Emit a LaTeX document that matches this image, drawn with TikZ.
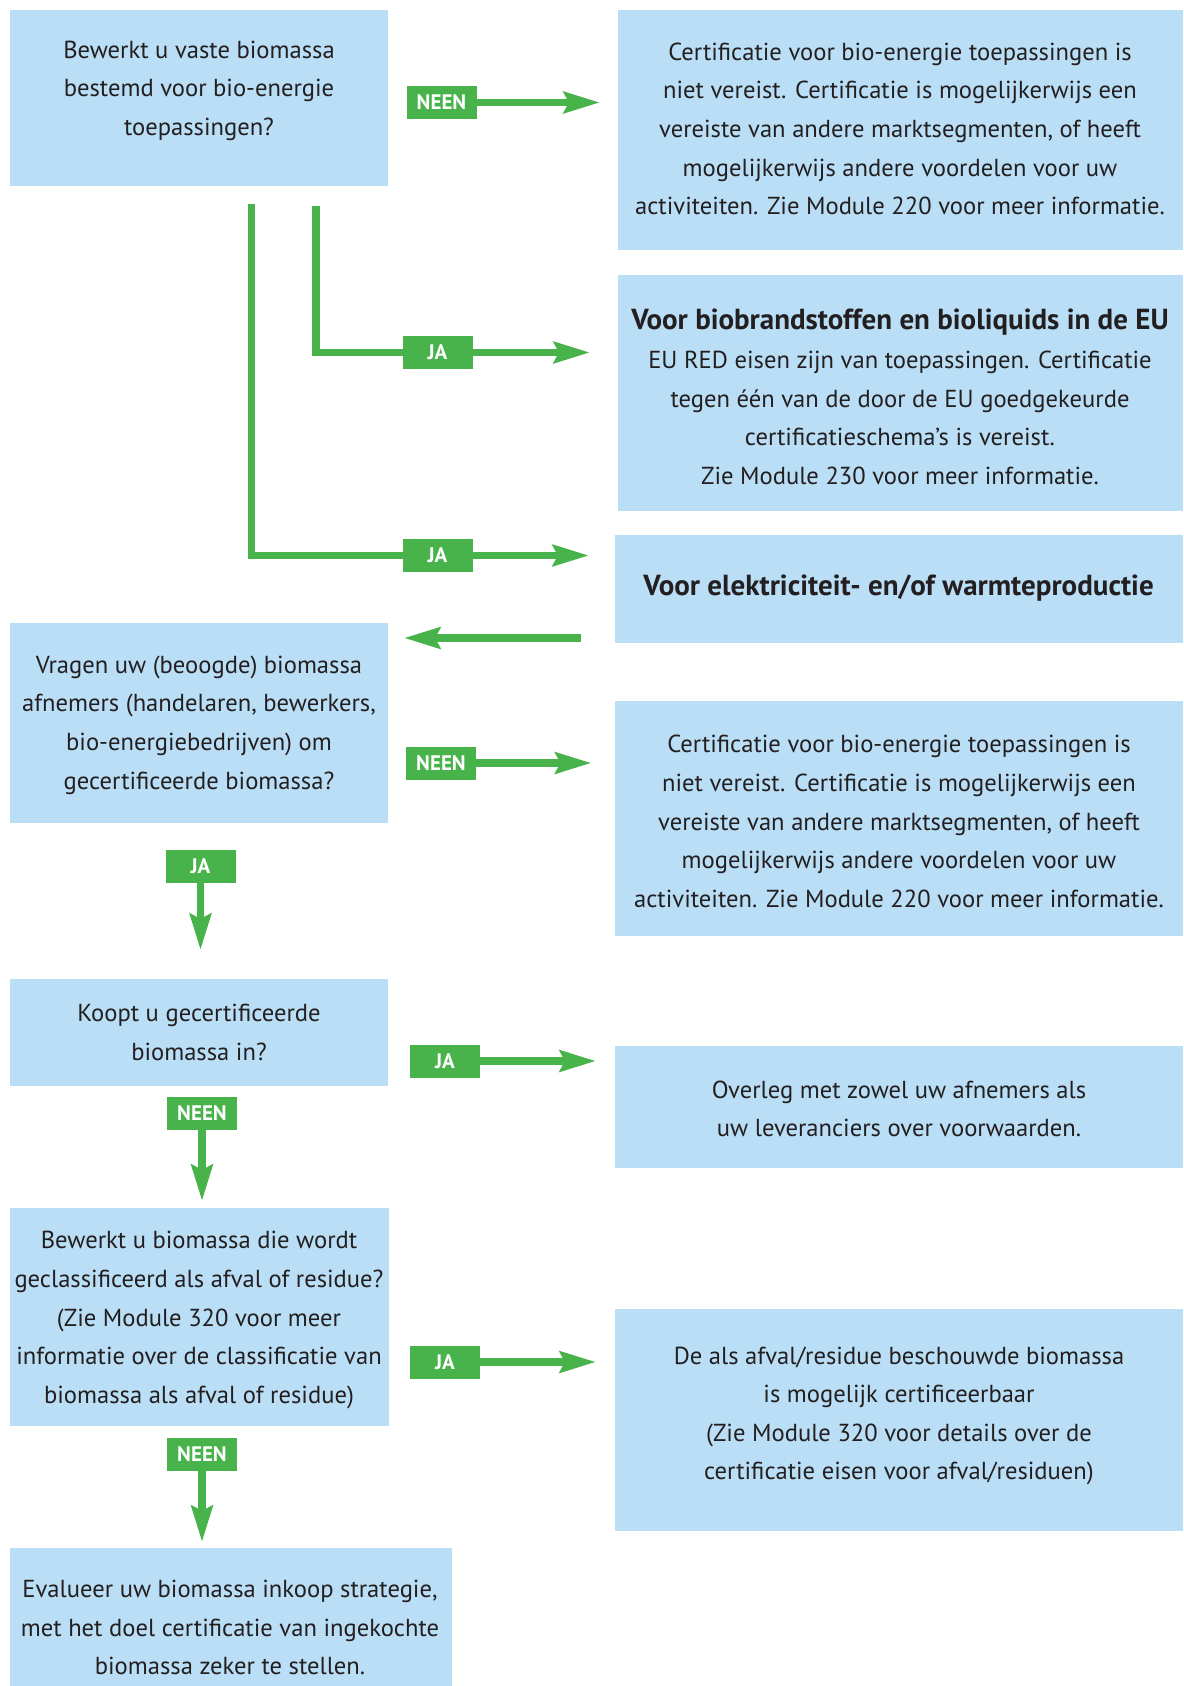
\documentclass[tikz,border=0pt]{standalone}
\usepackage{fontspec}
\setmainfont{PT Sans}
\usetikzlibrary{arrows.meta}
\definecolor{boxblue}{RGB}{185,222,245}
\definecolor{flowgreen}{RGB}{72,179,74}
\definecolor{inkgray}{RGB}{35,31,32}
\tikzset{
  box/.style={fill=boxblue, draw=none, inner sep=0pt, outer sep=0pt, anchor=north west},
  txt/.style={text=inkgray, align=center, inner sep=0pt, yshift=-2.5pt,
    font=\fontsize{24.6pt}{38.6pt}\selectfont},
  headtxt/.style={text=inkgray, align=center, inner sep=0pt, yshift=-2.5pt,
    font=\fontsize{29pt}{38.6pt}\selectfont\bfseries},
  tag/.style={fill=flowgreen, text=white, inner sep=0pt, outer sep=0pt,
    minimum width=70pt, minimum height=33pt,
    font=\fontsize{21pt}{22pt}\selectfont\bfseries},
  flow/.style={draw=flowgreen, line width=7.5pt, line join=miter,
    -{Stealth[length=36pt, width=21pt, inset=5pt]}},
  flowline/.style={draw=flowgreen, line width=7.5pt, line join=miter},
}
\begin{document}
\begin{tikzpicture}[x=1pt, y=-1pt]
\useasboundingbox (0,0) rectangle (1183,1686);

% question boxes (left column)
\node[box, minimum width=378.3pt, minimum height=176.3pt] (q1) at (9.7,9.7) {};
\node[box, minimum width=378.3pt, minimum height=200pt] (q2) at (9.7,623) {};
\node[box, minimum width=378.3pt, minimum height=107pt] (q3) at (9.7,979) {};
\node[box, minimum width=379.3pt, minimum height=218pt] (q4) at (9.7,1208) {};
\node[box, minimum width=442.3pt, minimum height=138pt] (q5) at (9.7,1548) {};

% answer boxes (right column)
\node[box, minimum width=565pt, minimum height=239.8pt] (r1) at (618,9.7) {};
\node[box, minimum width=565pt, minimum height=236pt] (r2) at (618,275) {};
\node[box, minimum width=568pt, minimum height=108.5pt] (r3) at (615,534.5) {};
\node[box, minimum width=568pt, minimum height=235pt] (r4) at (615,701) {};
\node[box, minimum width=568pt, minimum height=122pt] (r5) at (615,1046) {};
\node[box, minimum width=568pt, minimum height=222pt] (r6) at (615,1309) {};

% box texts
\node[txt] (q1t) at (199,88) {Bewerkt u vaste biomassa\\bestemd voor bio-energie\\toepassingen?};
\node[txt] (r1t) at (900,126.3) {Certificatie voor bio-energie toepassingen is\\niet vereist. Certificatie is mogelijkerwijs een\\vereiste van andere marktsegmenten, of heeft\\mogelijkerwijs andere voordelen voor uw\\activiteiten. Zie Module 220 voor meer informatie.};
\node[txt] (r2t) at (900,394.5) {{\fontsize{29pt}{38.6pt}\selectfont\bfseries Voor biobrandstoffen en bioliquids in de EU}\\EU RED eisen zijn van toepassingen. Certificatie\\tegen één van de door de EU goedgekeurde\\certificatieschema’s is vereist.\\Zie Module 230 voor meer informatie.};
\node[headtxt] (r3t) at (898.6,586) {Voor elektriciteit- en/of warmteproductie};
\node[txt] (q2t) at (199,722.5) {Vragen uw (beoogde) biomassa\\afnemers (handelaren, bewerkers,\\bio-energiebedrijven) om\\gecertificeerde biomassa?};
\node[txt] (r4t) at (899,819) {Certificatie voor bio-energie toepassingen is\\niet vereist. Certificatie is mogelijkerwijs een\\vereiste van andere marktsegmenten, of heeft\\mogelijkerwijs andere voordelen voor uw\\activiteiten. Zie Module 220 voor meer informatie.};
\node[txt] (q3t) at (199,1030) {Koopt u gecertificeerde\\biomassa in?};
\node[txt] (r5t) at (899,1106.5) {Overleg met zowel uw afnemers als\\uw leveranciers over voorwaarden.};
\node[txt] (q4t) at (199,1317.5) {Bewerkt u biomassa die wordt\\geclassificeerd als afval of residue?\\(Zie Module 320 voor meer\\informatie over de classificatie van\\biomassa als afval of residue)};
\node[txt] (r6t) at (899,1413.5) {De als afval/residue beschouwde biomassa\\is mogelijk certificeerbaar\\(Zie Module 320 voor details over de\\certificatie eisen voor afval/residuen)};
\node[txt] (q5t) at (230,1625) {Evalueer uw biomassa inkoop strategie,\\met het doel certificatie van ingekochte\\biomassa zeker te stellen.};

% answer tags
\node[tag] (n1) at (441.5,102.5) {NEEN};
\node[tag] (j2) at (437.5,352.5) {JA};
\node[tag] (j1) at (437.5,555.5) {JA};
\node[tag] (n2) at (441,763) {NEEN};
\node[tag] (j3) at (200.5,866.5) {JA};
\node[tag] (j4) at (445,1061) {JA};
\node[tag] (n3) at (202,1113) {NEEN};
\node[tag] (j5) at (445,1362) {JA};
\node[tag] (n4) at (202,1454.5) {NEEN};

% branch starts below the first question
\coordinate (c1) at (251.7,204);
\coordinate (c2) at (316,206);
\coordinate (back) at (0,638);

% connectors
\draw[flow, shorten >=18pt] (n1.east) -- (n1.east -| r1.west);
\draw[flowline] (c2) |- (j2.west);
\draw[flow, shorten >=28pt] (j2.east) -- (j2.east -| r2.west);
\draw[flowline] (c1) |- (j1.west);
\draw[flow, shorten >=26pt] (j1.east) -- (j1.east -| r3.west);
\draw[flow, shorten <=34pt, shorten >=16pt] (r3.west |- back) -- (q2.east |- back);
\draw[flow, shorten >=23.5pt] (n2.east) -- (n2.east -| r4.west);
\draw[flow, shorten >=29pt] (j3.south) -- (j3.south |- q3.north);
\draw[flow, shorten >=19pt] (j4.east) -- (j4.east -| r5.west);
\draw[flow, shorten >=7pt] (n3.south) -- (n3.south |- q4.north);
\draw[flow, shorten >=19pt] (j5.east) -- (j5.east -| r6.west);
\draw[flow, shorten >=6pt] (n4.south) -- (n4.south |- q5.north);
\end{tikzpicture}
\end{document}
